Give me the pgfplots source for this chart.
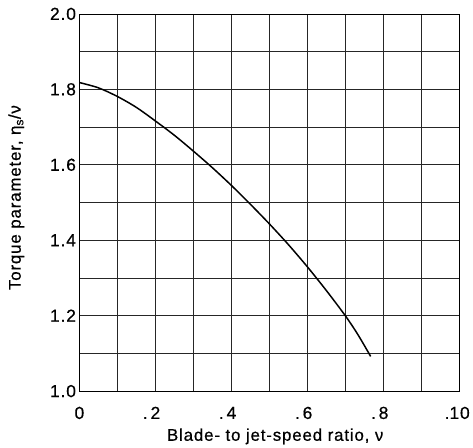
\documentclass[border=0pt]{standalone}
\usepackage{fontspec}
\setmainfont{Liberation Sans}[LetterSpace=5, FakeBold=0.6]
\usepackage{pgfplots}
\pgfplotsset{compat=1.18}
\begin{document}
\begin{tikzpicture}
\begin{axis}[
  scale only axis,
  width=383pt, height=380pt,
  xmin=0, xmax=1, ymin=1, ymax=2,
  clip=false,
  xtick={0,0.2,0.4,0.6,0.8,1.0},
  xticklabels={0,\makebox[0pt][r]{.\,}2,\makebox[0pt][r]{.\,}4,\makebox[0pt][r]{.\,}6,\makebox[0pt][r]{.\,}8,\makebox[0pt][r]{.}10},
  minor xtick={0.1,0.3,0.5,0.7,0.9},
  ytick={1.0,1.2,1.4,1.6,1.8,2.0},
  yticklabels={1.0,1.2,1.4,1.6,1.8,2.0},
  minor ytick={1.1,1.3,1.5,1.7,1.9},
  grid=both,
  major grid style={black!85, line width=0.8pt},
  minor grid style={black!85, line width=0.8pt},
  tick style={draw=none},
  axis line style={black, line width=0.8pt},
  ticklabel style={font=\fontsize{17.5}{19}\selectfont},
  xticklabel style={anchor=base, yshift=-28pt},
  xlabel={Blade- to jet-speed ratio, ν},
  ylabel={Torque parameter, η\textsubscript{s}/ν},
  label style={font=\fontsize{17}{19}\selectfont},
  xlabel style={at={(axis description cs:0.515,-0.1316)}, anchor=base},
  ylabel style={at={(axis description cs:-0.136,0.513)}, anchor=south},
  /pgf/number format/assume math mode=true,
]
\addplot[black, line width=1.5pt, smooth] coordinates {
(0,1.818) (0.05,1.804) (0.1,1.781) (0.15,1.752) (0.2,1.716) (0.25,1.678) (0.3,1.636) (0.35,1.592) (0.4,1.545) (0.45,1.495) (0.5,1.443) (0.55,1.388) (0.6,1.329) (0.65,1.266) (0.7,1.199) (0.733,1.149) (0.766,1.092)
};
\draw[black, line width=1.8pt] (axis cs:0,1) -- (axis cs:0,2);
\path (rel axis cs:0,1) ++(-80pt,14pt) coordinate (tl);
\path (rel axis cs:1,0) ++(10pt,-55pt) coordinate (br);
\path (tl) rectangle (br);
\end{axis}
\end{tikzpicture}
\end{document}
